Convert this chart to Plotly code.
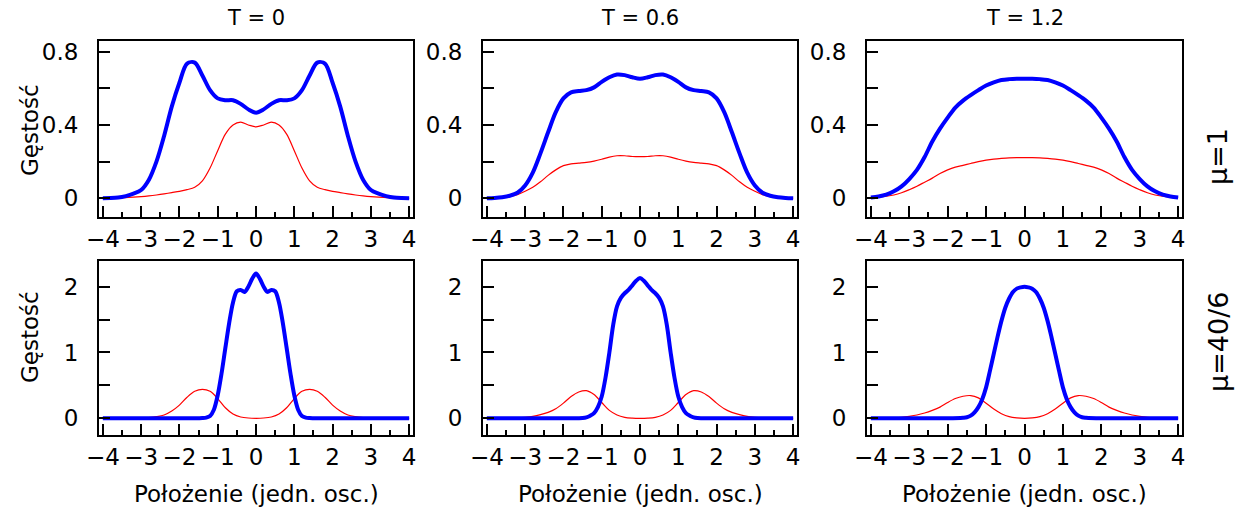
import plotly.graph_objects as go
from plotly.subplots import make_subplots

# Position grid (oscillator units) for the broad curves
X = [-4.0, -3.8, -3.6, -3.4, -3.2, -3.0, -2.8, -2.6, -2.4, -2.2, -2.0,
     -1.8, -1.6, -1.4, -1.2, -1.0, -0.8, -0.6, -0.4, -0.2, 0.0,
     0.2, 0.4, 0.6, 0.8, 1.0, 1.2, 1.4, 1.6, 1.8, 2.0,
     2.2, 2.4, 2.6, 2.8, 3.0, 3.2, 3.4, 3.6, 3.8, 4.0]

# Finer grid around the centre for the narrow, strongly interacting profiles
X_CORE = [-4.0, -3.0, -2.0, -1.6, -1.5, -1.4, -1.3, -1.2, -1.1, -1.0, -0.9,
          -0.8, -0.7, -0.6, -0.5, -0.4, -0.3, -0.2, -0.1, 0.0,
          0.1, 0.2, 0.3, 0.4, 0.5, 0.6, 0.7, 0.8, 0.9, 1.0,
          1.1, 1.2, 1.3, 1.4, 1.5, 1.6, 2.0, 3.0, 4.0]

# mu = 1 : total density (blue) and single-particle contribution (red)
TOT_MU1_T0 = [0.0, 0.001, 0.004, 0.012, 0.025, 0.045, 0.10, 0.20, 0.34, 0.50, 0.63,
              0.735, 0.74, 0.67, 0.59, 0.545, 0.535, 0.535, 0.515, 0.485, 0.467,
              0.485, 0.515, 0.535, 0.535, 0.545, 0.59, 0.67, 0.74, 0.735, 0.63,
              0.50, 0.34, 0.20, 0.10, 0.045, 0.025, 0.012, 0.004, 0.001, 0.0]
ONE_MU1_T0 = [0.0, 0.001, 0.002, 0.004, 0.006, 0.009, 0.013, 0.018, 0.024, 0.031, 0.038,
              0.047, 0.060, 0.095, 0.165, 0.26, 0.35, 0.40, 0.415, 0.40, 0.39,
              0.40, 0.415, 0.40, 0.35, 0.26, 0.165, 0.095, 0.060, 0.047, 0.038,
              0.031, 0.024, 0.018, 0.013, 0.009, 0.006, 0.004, 0.002, 0.001, 0.0]

TOT_MU1_T06 = [0.0, 0.002, 0.006, 0.014, 0.03, 0.07, 0.14, 0.245, 0.36, 0.47, 0.545,
               0.578, 0.585, 0.59, 0.605, 0.635, 0.66, 0.675, 0.672, 0.66, 0.652,
               0.66, 0.672, 0.675, 0.66, 0.635, 0.605, 0.59, 0.585, 0.578, 0.545,
               0.47, 0.36, 0.245, 0.14, 0.07, 0.03, 0.014, 0.006, 0.002, 0.0]
ONE_MU1_T06 = [0.0, 0.002, 0.005, 0.01, 0.02, 0.038, 0.06, 0.09, 0.125, 0.155, 0.178,
               0.188, 0.192, 0.196, 0.203, 0.213, 0.225, 0.232, 0.232, 0.228, 0.227,
               0.228, 0.232, 0.232, 0.225, 0.213, 0.203, 0.196, 0.192, 0.188, 0.178,
               0.155, 0.125, 0.09, 0.06, 0.038, 0.02, 0.01, 0.005, 0.002, 0.0]

TOT_MU1_T12 = [0.004, 0.01, 0.02, 0.038, 0.065, 0.105, 0.155, 0.225, 0.31, 0.38, 0.44,
               0.495, 0.533, 0.563, 0.59, 0.615, 0.632, 0.645, 0.65, 0.652, 0.652,
               0.652, 0.65, 0.645, 0.632, 0.615, 0.59, 0.563, 0.533, 0.495, 0.44,
               0.38, 0.31, 0.225, 0.155, 0.105, 0.065, 0.038, 0.02, 0.01, 0.004]
ONE_MU1_T12 = [0.003, 0.006, 0.011, 0.018, 0.03, 0.047, 0.066, 0.088, 0.11, 0.135, 0.155,
               0.17, 0.18, 0.19, 0.2, 0.208, 0.214, 0.218, 0.221, 0.222, 0.222,
               0.222, 0.221, 0.218, 0.214, 0.208, 0.2, 0.19, 0.18, 0.17, 0.155,
               0.135, 0.11, 0.088, 0.066, 0.047, 0.03, 0.018, 0.011, 0.006, 0.003]

# mu = 40/6 : total density on the core grid, single-particle part on the broad grid
TOT_MU40_T0 = [0.0, 0.0, 0.0, 0.0, 0.001, 0.003, 0.01, 0.035, 0.13, 0.35, 0.68,
               1.07, 1.45, 1.76, 1.93, 1.95, 1.92, 2.0, 2.12, 2.2,
               2.12, 2.0, 1.92, 1.95, 1.93, 1.76, 1.45, 1.07, 0.68, 0.35,
               0.13, 0.035, 0.01, 0.003, 0.001, 0.0, 0.0, 0.0, 0.0]
ONE_MU40_T0 = [0.0, 0.0, 0.001, 0.002, 0.003, 0.006, 0.012, 0.025, 0.05, 0.11, 0.20,
               0.32, 0.41, 0.44, 0.41, 0.30, 0.16, 0.065, 0.02, 0.004, 0.0,
               0.004, 0.02, 0.065, 0.16, 0.30, 0.41, 0.44, 0.41, 0.32, 0.20,
               0.11, 0.05, 0.025, 0.012, 0.006, 0.003, 0.002, 0.001, 0.0, 0.0]

TOT_MU40_T06 = [0.0, 0.0, 0.0, 0.002, 0.005, 0.015, 0.04, 0.078, 0.17, 0.33, 0.62,
                1.0, 1.42, 1.70, 1.83, 1.90, 1.95, 2.02, 2.09, 2.13,
                2.09, 2.02, 1.95, 1.90, 1.83, 1.70, 1.42, 1.0, 0.62, 0.33,
                0.17, 0.078, 0.04, 0.015, 0.005, 0.002, 0.0, 0.0, 0.0]
ONE_MU40_T06 = [0.0, 0.001, 0.002, 0.004, 0.008, 0.016, 0.03, 0.055, 0.09, 0.145, 0.23,
                0.33, 0.40, 0.42, 0.36, 0.24, 0.12, 0.05, 0.015, 0.003, 0.0,
                0.003, 0.015, 0.05, 0.12, 0.24, 0.36, 0.42, 0.40, 0.33, 0.23,
                0.145, 0.09, 0.055, 0.03, 0.016, 0.008, 0.004, 0.002, 0.001, 0.0]

TOT_MU40_T12 = [0.0, 0.0, 0.0, 0.008, 0.015, 0.04, 0.09, 0.17, 0.29, 0.47, 0.72,
                0.98, 1.24, 1.48, 1.68, 1.82, 1.92, 1.97, 1.99, 2.0,
                1.99, 1.97, 1.92, 1.82, 1.68, 1.48, 1.24, 0.98, 0.72, 0.47,
                0.29, 0.17, 0.09, 0.04, 0.015, 0.008, 0.0, 0.0, 0.0]
ONE_MU40_T12 = [0.001, 0.002, 0.004, 0.008, 0.015, 0.03, 0.05, 0.08, 0.12, 0.17, 0.24,
                0.30, 0.335, 0.345, 0.31, 0.23, 0.14, 0.07, 0.025, 0.006, 0.0,
                0.006, 0.025, 0.07, 0.14, 0.23, 0.31, 0.345, 0.335, 0.30, 0.24,
                0.17, 0.12, 0.08, 0.05, 0.03, 0.015, 0.008, 0.004, 0.002, 0.001]

COLUMN_TITLES = ["T = 0", "T = 0.6", "T = 1.2"]
ROW_TITLES = ["\u03bc=1", "\u03bc=40/6"]
Y_LABEL = "Gęstość"
X_LABEL = "Położenie (jedn. osc.)"

X_TICKS = [-4, -3, -2, -1, 0, 1, 2, 3, 4]
Y_TICKS = [[0, 0.2, 0.4, 0.6, 0.8], [0, 0.5, 1, 1.5, 2]]
Y_TICKTEXT = [["0", "", "0.4", "", "0.8"], ["0", "", "1", "", "2"]]
Y_RANGES = [[-0.102, 0.858], [-0.254, 2.39]]

panels = [
    (1, 1, X, ONE_MU1_T0, X, TOT_MU1_T0),
    (1, 2, X, ONE_MU1_T06, X, TOT_MU1_T06),
    (1, 3, X, ONE_MU1_T12, X, TOT_MU1_T12),
    (2, 1, X, ONE_MU40_T0, X_CORE, TOT_MU40_T0),
    (2, 2, X, ONE_MU40_T06, X_CORE, TOT_MU40_T06),
    (2, 3, X, ONE_MU40_T12, X_CORE, TOT_MU40_T12),
]

W, H = 1235, 511
COL_PX = [(99, 413), (483, 797), (867, 1182)]
ROW_PX = [(41, 217), (261, 435)]
FONT = "DejaVu Sans, Verdana, sans-serif"

fig = make_subplots(rows=2, cols=3)

for r, c, xr, red, xb, blue in panels:
    fig.add_trace(go.Scatter(x=xr, y=red, mode="lines", showlegend=False,
                             line=dict(color="#ff0000", width=1.2, shape="spline", smoothing=0.9)),
                  row=r, col=c)
    fig.add_trace(go.Scatter(x=xb, y=blue, mode="lines", showlegend=False,
                             line=dict(color="#0000ff", width=4, shape="spline", smoothing=0.9)),
                  row=r, col=c)

for r in (1, 2):
    y0, y1 = ROW_PX[r - 1]
    for c in (1, 2, 3):
        x0, x1 = COL_PX[c - 1]
        fig.update_xaxes(domain=[x0 / W, x1 / W], range=[-4.1, 4.1], automargin=False,
                         tickmode="array", tickvals=X_TICKS,
                         ticks="inside", ticklen=11, tickwidth=1.5, tickcolor="black",
                         minor=dict(ticks="inside", ticklen=5, tickwidth=1.5,
                                    tickcolor="black", dtick=0.5, tick0=0),
                         showline=True, linewidth=2, linecolor="black", mirror=True,
                         showgrid=False, zeroline=False,
                         tickfont=dict(family=FONT, size=23, color="black"),
                         row=r, col=c)
        fig.update_yaxes(domain=[1 - y1 / H, 1 - y0 / H], range=Y_RANGES[r - 1],
                         automargin=False,
                         tickmode="array", tickvals=Y_TICKS[r - 1], ticktext=Y_TICKTEXT[r - 1],
                         ticks="inside", ticklen=11, tickwidth=1.5, tickcolor="black",
                         ticklabelstandoff=14,
                         showline=True, linewidth=2, linecolor="black", mirror=True,
                         showgrid=False, zeroline=False,
                         tickfont=dict(family=FONT, size=23, color="black"),
                         row=r, col=c)

annotations = []
for c, title in enumerate(COLUMN_TITLES):
    x0, x1 = COL_PX[c]
    cx = (x0 + x1) / 2 / W
    annotations.append(dict(text=title, x=cx, y=1 - 18 / H, xref="paper", yref="paper",
                            showarrow=False, xanchor="center", yanchor="middle",
                            font=dict(family=FONT, size=21, color="black")))
    annotations.append(dict(text=X_LABEL, x=cx, y=1 - 494 / H, xref="paper", yref="paper",
                            showarrow=False, xanchor="center", yanchor="middle",
                            font=dict(family=FONT, size=23, color="black")))

for yc in (130, 337):
    annotations.append(dict(text=Y_LABEL, x=30 / W, y=1 - yc / H, xref="paper", yref="paper",
                            showarrow=False, xanchor="center", yanchor="middle", textangle=-90,
                            font=dict(family=FONT, size=23, color="black")))

for yc, label in zip((157, 342), ROW_TITLES):
    annotations.append(dict(text=label, x=1218 / W, y=1 - yc / H, xref="paper", yref="paper",
                            showarrow=False, xanchor="center", yanchor="middle", textangle=-90,
                            font=dict(family=FONT, size=27, color="black")))

fig.update_layout(width=W, height=H, margin=dict(l=0, r=0, t=0, b=0),
                  plot_bgcolor="white", paper_bgcolor="white",
                  annotations=annotations, showlegend=False)

fig.write_html("out.html")
